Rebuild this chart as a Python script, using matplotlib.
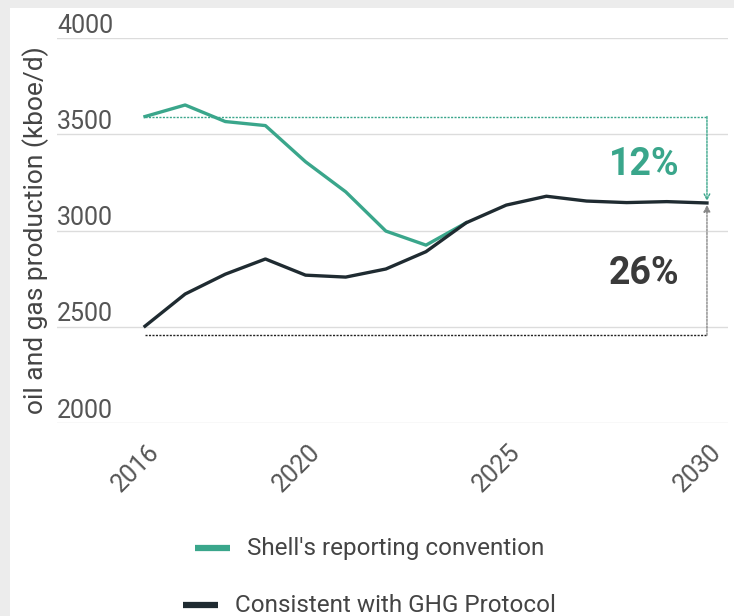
import matplotlib
matplotlib.use("Agg")
import matplotlib.pyplot as plt
import matplotlib.transforms as mtransforms
from matplotlib.lines import Line2D
from matplotlib.patches import Rectangle

plt.rcParams['font.family'] = ['Roboto', 'DejaVu Sans']

# production estimates, kboe/d
years = list(range(2016, 2031))
shell_years = list(range(2016, 2025))
shell_conv = [3592, 3652, 3566, 3545, 3357, 3201, 2997, 2924, 3040]
ghg_protocol = [2503, 2670, 2773, 2852, 2768, 2758, 2800, 2890, 3040,
                3132, 3178, 3153, 3145, 3150, 3143]

yticks = [2000, 2500, 3000, 3500, 4000]
xticks = [2016, 2020, 2025, 2030]

# bracket levels for the percentage call-outs
top_level = 3592
base_level = 2456
pct_labels = ['12%', '26%']

green = '#3aa68b'
dark = '#1f2b31'
grey_txt = '#555555'

fig = plt.figure(figsize=(7.34, 6.16), dpi=100, facecolor='#ececec')
fig.add_artist(Rectangle((9.5 / 734, 0), 1, 1 - 8 / 616, transform=fig.transFigure,
                         facecolor='white', edgecolor='none', zorder=-1))

ax = fig.add_axes([57 / 734, 1 - 423 / 616, (728 - 57) / 734, (423 - 38) / 616])
ax.set_facecolor('none')
ax.set_ylim(2000, 4000)
px = 40.14  # pixels per year
ax.set_xlim(2016 - 88 / px, 2016 + (728 - 145) / px)

for y in yticks:
    ax.axhline(y, color='#dcdcdc', lw=1, zorder=0)
    ax.text(2016 - 88 / px, y + 28, str(y), ha='left', va='baseline',
            fontsize=18, color=grey_txt)

for s in ax.spines.values():
    s.set_visible(False)
ax.set_yticks([])
ax.set_xticks(xticks)
ax.set_xticklabels([str(x) for x in xticks], rotation=45, ha='right', va='top',
                   rotation_mode='anchor', fontsize=18, color=grey_txt)
ax.tick_params(axis='x', length=0, pad=12)
shift = mtransforms.ScaledTranslation(2 / 100, 0, fig.dpi_scale_trans)
for lab in ax.get_xticklabels():
    lab.set_transform(lab.get_transform() + shift)

ax.plot(shell_years, shell_conv, color=green, lw=2.4, zorder=3)
ax.plot(years, ghg_protocol, color=dark, lw=2.4, zorder=4)

# dotted brackets with arrows at 2030
end_val = ghg_protocol[-1]
ax.plot([2016, 2030], [top_level, top_level], color=green, lw=1, ls=(0, (1.5, 1)), zorder=2)
ax.annotate('', xy=(2030, end_val + 10), xytext=(2030, top_level),
            arrowprops=dict(arrowstyle='->', color=green, lw=1, ls=(0, (1.5, 1)),
                            shrinkA=0, shrinkB=0))
ax.plot([2016, 2030], [base_level, base_level], color='#222222', lw=1, ls=(0, (1.5, 1)), zorder=2)
ax.annotate('', xy=(2030, end_val - 10), xytext=(2030, base_level),
            arrowprops=dict(arrowstyle='-|>', color='#888888', lw=1, ls=(0, (1.5, 1)),
                            shrinkA=0, shrinkB=0, mutation_scale=10))

ax.text(2028.43, 3288, pct_labels[0], ha='center', va='baseline',
        fontsize=27, fontweight='bold', color=green)
ax.text(2028.43, 2721, pct_labels[1], ha='center', va='baseline',
        fontsize=27, fontweight='bold', color='#3a3a3a')

ax.set_ylabel('oil and gas production (kboe/d)', fontsize=19, color='#444444')
ax.yaxis.set_label_coords(-8 / 671, 0.5)

# legend entries, each centred on its own row
fig.add_artist(Line2D([195 / 734, 230 / 734], [1 - 548 / 616] * 2, transform=fig.transFigure,
                      color=green, lw=4.5, solid_capstyle='butt'))
fig.text(247 / 734, 1 - 548 / 616, "Shell's reporting convention", ha='left', va='center',
         fontsize=17.5, color='#444444')
fig.add_artist(Line2D([183 / 734, 218 / 734], [1 - 605 / 616] * 2, transform=fig.transFigure,
                      color=dark, lw=4.5, solid_capstyle='butt'))
fig.text(235 / 734, 1 - 605 / 616, "Consistent with GHG Protocol", ha='left', va='center',
         fontsize=17.5, color='#444444')

fig.savefig('out.png', dpi=100, facecolor=fig.get_facecolor())
